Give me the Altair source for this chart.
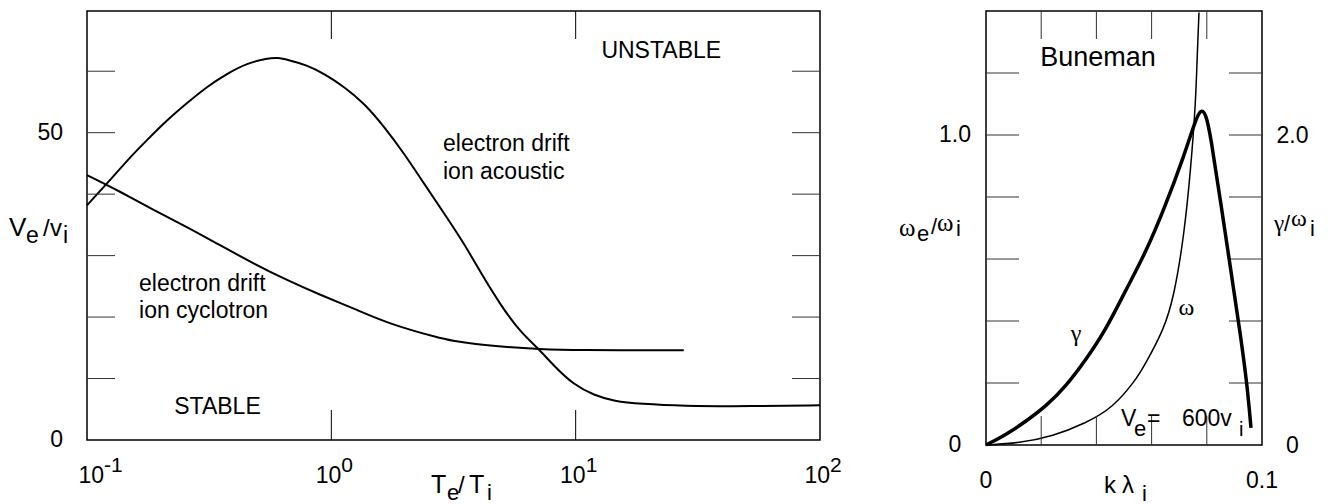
import altair as alt
import pandas as pd

# ---------------- data: left panel (V_e / v_i versus T_e / T_i) ----------------
acoustic_T = [0.100, 0.121, 0.146, 0.176, 0.212, 0.256, 0.310, 0.374, 0.452, 0.546, 0.605,
              0.659, 0.796, 0.933, 1.127, 1.361, 1.644, 1.986, 2.393, 2.891, 3.491, 4.102,
              4.955, 5.984, 7.079, 8.166, 9.84, 11.89, 14.36, 18.54, 26.98, 52.24, 100.0]
acoustic_V = [38.2, 41.75, 45.5, 48.8, 52.0, 54.8, 57.5, 59.6, 61.3, 62.1, 62.2,
              61.9, 61.0, 59.6, 57.5, 54.8, 51.0, 46.6, 41.75, 36.9, 32.0, 27.1,
              21.8, 17.4, 14.8, 12.0, 8.95, 7.3, 6.3, 5.86, 5.53, 5.48, 5.64]

cyclotron_T = [0.100, 0.137, 0.1875, 0.256, 0.350, 0.481, 0.659, 0.902, 1.236, 1.690,
               2.812, 3.09, 3.837, 5.272, 7.079, 9.84, 27.7]
cyclotron_V = [43.1, 40.4, 37.4, 34.7, 31.7, 28.7, 26.0, 23.6, 21.4, 19.0,
               16.5, 16.2, 15.6, 15.1, 14.8, 14.6, 14.6]

left_ytick_vals = [10, 20, 30, 40, 50, 60]
left_xtick_vals = [1, 10]
left_ylabel_vals = [0, 50]
left_ylabel_text = ["0", "50"]
left_xlabel_vals = [0.1, 1, 10, 100]
left_xlabel_exp = ["-1", "0", "1", "2"]

left_note_text = ["electron drift", "ion cyclotron", "electron drift", "ion acoustic"]
left_note_T = [0.1633, 0.1633, 2.864, 2.864]
left_note_V = [24.2, 19.8, 46.96, 42.4]
left_region_text = ["STABLE", "UNSTABLE"]
left_region_T = [0.342, 22.4]
left_region_V = [4.18, 62.1]

# ---------------- data: right panel (Buneman) ----------------
gamma_k = [0.0, 0.00725, 0.01449, 0.02174, 0.02899, 0.03623, 0.04348, 0.05072, 0.05725,
           0.06449, 0.07174, 0.07598, 0.07779, 0.07960, 0.08141, 0.08504, 0.08866,
           0.09228, 0.09467, 0.09601]
gamma_val = [0.0, 0.0665, 0.153, 0.250, 0.379, 0.551, 0.745, 1.003, 1.219,
             1.520, 1.864, 2.101, 2.165, 2.144, 1.994, 1.563, 1.132,
             0.702, 0.379, 0.110]

omega_k = [0.0, 0.01207, 0.02417, 0.03623, 0.04591, 0.05435, 0.05725, 0.06449,
           0.06812, 0.07174, 0.07417, 0.07598, 0.07656, 0.07717]
omega_val = [0.0, 0.0065, 0.0281, 0.0710, 0.1195, 0.2108, 0.2541, 0.3723,
             0.4801, 0.6739, 0.8889, 1.1043, 1.2657, 1.3949]

right_ytick_vals = [0.2, 0.4, 0.6, 0.8, 1.0, 1.2]
right_xtick_vals = [0.02, 0.04, 0.06, 0.08]
right_ylabel_vals = [0.0, 1.0]
right_ylabel_text = ["0", "1.0"]
right_xlabel_vals = [0.0, 0.1]
right_xlabel_text = ["0", "0.1"]

# ---------------- layout / style ----------------
FONT = "Liberation Sans"
SERIF = "Liberation Serif"
W1, H1 = 733, 429
W2, H2 = 276, 434
TICK = "#333333"
LBL = "datum.value == 0 ? '0' : format(datum.value, '.1f')"


def one(s):
    return pd.DataFrame({"s": [s]})


def txt(s, px, py, size=23, font=FONT, align="left"):
    return alt.Chart(one(s)).mark_text(
        align=align, baseline="alphabetic", font=font, fontSize=size, color="black"
    ).encode(x=alt.value(px), y=alt.value(py), text="s:N")


# ================= left panel =================
xs1 = alt.Scale(type="log", domain=[0.1, 100], nice=False)
ys1 = alt.Scale(domain=[0, 69.8], nice=False, zero=False)

ac_df = pd.DataFrame({"T": acoustic_T, "V": acoustic_V})
cy_df = pd.DataFrame({"T": cyclotron_T, "V": cyclotron_V})

line_ac = alt.Chart(ac_df).mark_line(color="black", strokeWidth=2, interpolate="basis").encode(
    x=alt.X("T:Q", scale=xs1, axis=None),
    y=alt.Y("V:Q", scale=ys1, axis=None),
)
line_cy = alt.Chart(cy_df).mark_line(color="black", strokeWidth=2, interpolate="basis").encode(
    x=alt.X("T:Q", scale=xs1, axis=None),
    y=alt.Y("V:Q", scale=ys1, axis=None),
)

ytk1 = pd.DataFrame({"v": left_ytick_vals})
xtk1 = pd.DataFrame({"t": left_xtick_vals})
ytick_l = alt.Chart(ytk1).mark_rule(color=TICK, strokeWidth=1).encode(
    y=alt.Y("v:Q", scale=ys1, axis=None), x=alt.value(0), x2=alt.value(28))
ytick_r = alt.Chart(ytk1).mark_rule(color=TICK, strokeWidth=1).encode(
    y=alt.Y("v:Q", scale=ys1, axis=None), x=alt.value(W1 - 28), x2=alt.value(W1))
xtick_b = alt.Chart(xtk1).mark_rule(color="black", strokeWidth=1).encode(
    x=alt.X("t:Q", scale=xs1, axis=None), y=alt.value(H1), y2=alt.value(H1 - 30))
xtick_t = alt.Chart(xtk1).mark_rule(color="black", strokeWidth=1).encode(
    x=alt.X("t:Q", scale=xs1, axis=None), y=alt.value(0), y2=alt.value(28))

ylab1 = alt.Chart(pd.DataFrame({"v": left_ylabel_vals, "s": left_ylabel_text})).mark_text(
    align="right", baseline="middle", font=FONT, fontSize=23, color="black").encode(
    y=alt.Y("v:Q", scale=ys1, axis=None), x=alt.value(-24), text="s:N")

xl_df = pd.DataFrame({"t": left_xlabel_vals, "e": left_xlabel_exp})
xl_first = xl_df[xl_df["t"] < 0.5]
xl_rest = xl_df[xl_df["t"] >= 0.5]


def decade_labels(df, dx):
    base = alt.Chart(df).mark_text(align="right", baseline="alphabetic", dx=dx, font=FONT,
                                   fontSize=23, color="black").encode(
        x=alt.X("t:Q", scale=xs1, axis=None), y=alt.value(H1 + 43), text=alt.value("10"))
    expo = alt.Chart(df).mark_text(align="left", baseline="alphabetic", dx=dx, font=FONT,
                                   fontSize=21, color="black").encode(
        x=alt.X("t:Q", scale=xs1, axis=None), y=alt.value(H1 + 32), text="e:N")
    return base + expo


notes1 = alt.Chart(pd.DataFrame({"T": left_note_T, "V": left_note_V, "s": left_note_text})).mark_text(
    align="left", baseline="alphabetic", font=FONT, fontSize=23, color="black").encode(
    x=alt.X("T:Q", scale=xs1, axis=None), y=alt.Y("V:Q", scale=ys1, axis=None), text="s:N")
regions1 = alt.Chart(pd.DataFrame({"T": left_region_T, "V": left_region_V, "s": left_region_text})).mark_text(
    align="center", baseline="alphabetic", font=FONT, fontSize=23, color="black").encode(
    x=alt.X("T:Q", scale=xs1, axis=None), y=alt.Y("V:Q", scale=ys1, axis=None), text="s:N")

ytitle1 = [txt("V", -78, 225, 26), txt("e", -61, 232, 23), txt("/", -44, 225, 24),
           txt("v", -37, 225, 24), txt("i", -24, 232, 23)]
xtitle1 = [txt("T", 344, 482, 25), txt("e", 360, 489, 22), txt("/", 371, 482, 24),
           txt("T", 382, 482, 25), txt("i", 400, 489, 22)]

left = alt.layer(
    line_ac, line_cy, ytick_l, ytick_r, xtick_b, xtick_t, ylab1,
    decade_labels(xl_first, 17), decade_labels(xl_rest, 10),
    notes1, regions1, *ytitle1, *xtitle1,
).properties(width=W1, height=H1)

# ================= right panel =================
xs2 = alt.Scale(domain=[0, 0.1], nice=False, zero=False)
ys2 = alt.Scale(domain=[0, 1.4], nice=False, zero=False)
ys2g = alt.Scale(domain=[0, 2.8], nice=False, zero=False)

om_df = pd.DataFrame({"k": omega_k, "w": omega_val})
ga_df = pd.DataFrame({"k": gamma_k, "g": gamma_val})

line_om = alt.Chart(om_df).mark_line(color="black", strokeWidth=1.5, interpolate="basis").encode(
    x=alt.X("k:Q", scale=xs2, axis=None),
    y=alt.Y("w:Q", scale=ys2, axis=None),
)

ytk2 = pd.DataFrame({"v": right_ytick_vals})
xtk2 = pd.DataFrame({"t": right_xtick_vals})
ytick2_l = alt.Chart(ytk2).mark_rule(color=TICK, strokeWidth=1).encode(
    y=alt.Y("v:Q", scale=ys2, axis=None), x=alt.value(0), x2=alt.value(33))
ytick2_r = alt.Chart(ytk2).mark_rule(color=TICK, strokeWidth=1).encode(
    y=alt.Y("v:Q", scale=ys2, axis=None), x=alt.value(W2 - 33), x2=alt.value(W2))
xtick2_b = alt.Chart(xtk2).mark_rule(color=TICK, strokeWidth=1).encode(
    x=alt.X("t:Q", scale=xs2, axis=None), y=alt.value(H2), y2=alt.value(H2 - 29))
xtick2_t = alt.Chart(xtk2).mark_rule(color=TICK, strokeWidth=1).encode(
    x=alt.X("t:Q", scale=xs2, axis=None), y=alt.value(0), y2=alt.value(28))

ylab2 = alt.Chart(pd.DataFrame({"v": right_ylabel_vals, "s": right_ylabel_text})).mark_text(
    align="center", baseline="middle", font=FONT, fontSize=23, color="black").encode(
    y=alt.Y("v:Q", scale=ys2, axis=None), x=alt.value(-31), text="s:N")
xlab2 = alt.Chart(pd.DataFrame({"t": right_xlabel_vals, "s": right_xlabel_text})).mark_text(
    align="center", baseline="middle", font=FONT, fontSize=23, color="black").encode(
    x=alt.X("t:Q", scale=xs2, axis=None), y=alt.value(H2 + 36), text="s:N")

buneman = alt.Chart(pd.DataFrame({"k": [0.0406], "w": [1.2226], "s": ["Buneman"]})).mark_text(
    align="center", baseline="alphabetic", font=FONT, fontSize=27, color="black").encode(
    x=alt.X("k:Q", scale=xs2, axis=None), y=alt.Y("w:Q", scale=ys2, axis=None), text="s:N")
greek = alt.Chart(pd.DataFrame({"k": [0.0326, 0.07264], "w": [0.335, 0.419], "s": ["γ", "ω"]})).mark_text(
    align="center", baseline="alphabetic", font=SERIF, fontSize=24, color="black").encode(
    x=alt.X("k:Q", scale=xs2, axis=None), y=alt.Y("w:Q", scale=ys2, axis=None), text="s:N")

ytitle2 = [txt("ω", -87, 225, 25, SERIF), txt("e", -69, 230, 22), txt("/", -55, 223, 22),
           txt("ω", -49, 220, 25, SERIF), txt("i", -30, 225, 22)]
ytitle2r = [txt("γ", 288, 220, 23, SERIF), txt("/", 298, 220, 22),
            txt("ω", 305, 215, 24, SERIF), txt("i", 324, 225, 22)]
xtitle2 = [txt("k", 118, 482, 24), txt("λ", 136, 482, 24), txt("i", 156, 490, 22)]
vnote = [txt("V", 135, 415, 23), txt("e", 148, 425, 22), txt("=", 161, 415, 23),
         txt("600v", 196, 415, 23), txt("i", 253, 425, 20)]

inner = alt.layer(
    line_om, ytick2_l, ytick2_r, xtick2_b, xtick2_t, ylab2, xlab2, buneman, greek,
    *ytitle2, *ytitle2r, *xtitle2, *vnote,
)

line_ga = alt.Chart(ga_df).mark_line(color="black", strokeWidth=3.5, interpolate="basis").encode(
    x=alt.X("k:Q", scale=xs2, axis=None),
    y=alt.Y("g:Q", scale=ys2g,
            axis=alt.Axis(values=[0, 2.0], labelExpr=LBL, ticks=False, tickSize=0, domain=False,
                          grid=False, labelAlign="center", labelPadding=30, labelFontSize=23,
                          labelFont=FONT, labelColor="black", title=None, orient="right")),
)

right = alt.layer(inner, line_ga).resolve_scale(y="independent").properties(width=W2, height=H2)

chart = (
    alt.hconcat(left, right, spacing=55)
    .properties(padding=0)
    .configure_view(stroke="black", strokeWidth=1.5)
)

chart.save("out.html", embed_options={"renderer": "svg", "actions": False})
